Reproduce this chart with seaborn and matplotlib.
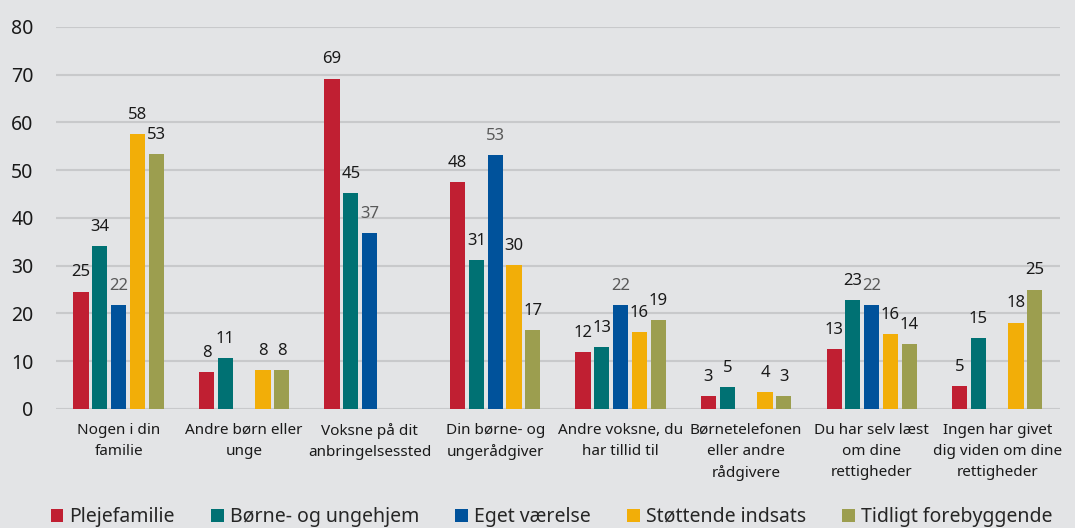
import matplotlib
matplotlib.use("Agg")
import numpy as np
import pandas as pd
import matplotlib.pyplot as plt
import seaborn as sns

# categories (x axis) and series (legend)
categories = [
    "Nogen i din\nfamilie",
    "Andre børn eller\nunge",
    "Voksne på dit\nanbringelsessted",
    "Din børne- og\nungerådgiver",
    "Andre voksne, du\nhar tillid til",
    "Børnetelefonen\neller andre\nrådgivere",
    "Du har selv læst\nom dine\nrettigheder",
    "Ingen har givet\ndig viden om dine\nrettigheder",
]
series = ["Plejefamilie", "Børne- og ungehjem", "Eget værelse",
          "Støttende indsats", "Tidligt forebyggende"]

# values in percent (nan = no bar)
plejefamilie = [24.6, 7.8, 69.2, 47.6, 12.0, 2.8, 12.6, 4.8]
boerne_ungehjem = [34.1, 10.6, 45.2, 31.1, 12.9, 4.6, 22.9, 14.8]
eget_vaerelse = [21.8, np.nan, 36.8, 53.1, 21.8, np.nan, 21.8, np.nan]
stoettende = [57.6, 8.2, np.nan, 30.1, 16.2, 3.6, 15.6, 18.1]
tidligt = [53.3, 8.1, np.nan, 16.6, 18.7, 2.8, 13.6, 25.0]

colors = ["#c01f32", "#007173", "#00529b", "#f2ae08", "#9c9e4f"]
label_colors = ["#1a1a1a", "#1a1a1a", "#595959", "#1a1a1a", "#1a1a1a"]

rows = []
for name, vals in zip(series, [plejefamilie, boerne_ungehjem, eget_vaerelse, stoettende, tidligt]):
    for cat, v in zip(categories, vals):
        rows.append({"kategori": cat, "gruppe": name, "procent": v})
df = pd.DataFrame(rows).dropna()

sns.set_style("white")
plt.rcParams["font.family"] = ["Noto Sans", "DejaVu Sans"]

bg = "#e3e4e6"
fig, ax = plt.subplots(figsize=(10.75, 5.28), dpi=100)
fig.patch.set_facecolor(bg)
ax.set_facecolor(bg)
fig.subplots_adjust(left=0.052, right=0.986, bottom=0.2254, top=0.949)

sns.barplot(data=df, x="kategori", y="procent", hue="gruppe",
            order=categories, hue_order=series,
            palette=dict(zip(series, colors)), saturation=1,
            width=0.75, gap=0.2, errorbar=None, linewidth=0, ax=ax)

# value labels above bars
for cont, lc in zip(ax.containers, label_colors):
    ax.bar_label(cont, fmt="{:.0f}", padding=8, fontsize=12, color=lc)

ax.set_ylim(0, 80)
ax.set_yticks(range(0, 81, 10))
ax.yaxis.grid(True, color="#c8c9cb", linewidth=1.5)
ax.set_axisbelow(True)
for s in ax.spines.values():
    s.set_visible(False)
ax.set_xlabel("")
ax.set_ylabel("")
ax.tick_params(axis="y", length=0, pad=16, labelsize=14, labelcolor="#1a1a1a")
ax.tick_params(axis="x", length=0, pad=10, labelsize=11, labelcolor="#1a1a1a")
for t in ax.get_xticklabels():
    t.set_linespacing(1.55)

handles, labels = ax.get_legend_handles_labels()
ax.get_legend().remove()
fig.legend(handles, labels, loc="center", bbox_to_anchor=(0.513, 0.021),
           ncol=5, frameon=False, fontsize=14, handlelength=0.65,
           handleheight=0.65, handletextpad=0.3, columnspacing=1.88)

fig.savefig("out.png", dpi=100, facecolor=bg)
